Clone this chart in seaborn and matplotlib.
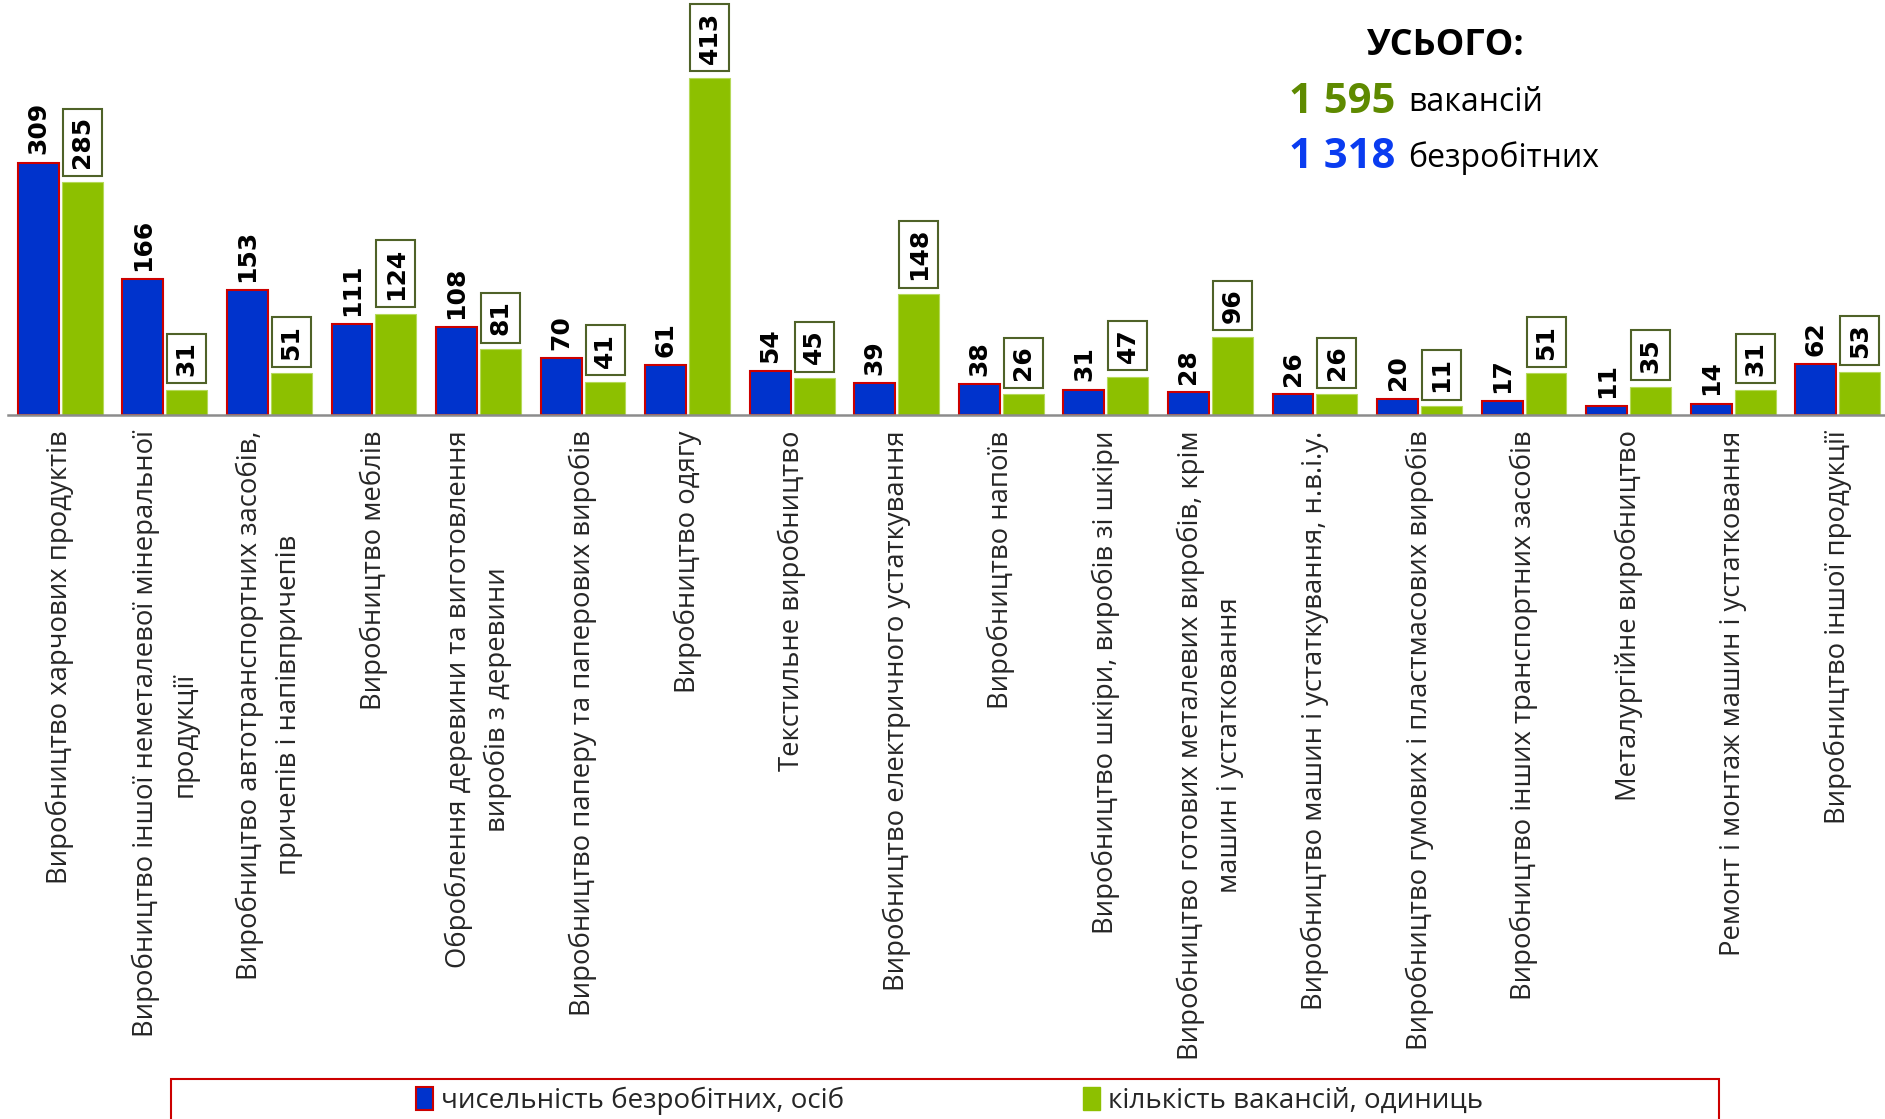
import matplotlib
matplotlib.use("Agg")
import matplotlib.pyplot as plt
import seaborn as sns
import pandas as pd
from matplotlib.patches import Patch, Rectangle

categories = [
    "Виробництво харчових продуктів",
    "Виробництво іншої неметалевої мінеральної\nпродукції",
    "Виробництво автотранспортних засобів,\nпричепів і напівпричепів",
    "Виробництво меблів",
    "Оброблення деревини та виготовлення\nвиробів з деревини",
    "Виробництво паперу та паперових виробів",
    "Виробництво одягу",
    "Текстильне виробництво",
    "Виробництво електричного устаткування",
    "Виробництво напоїв",
    "Виробництво шкіри, виробів зі шкіри",
    "Виробництво готових металевих виробів, крім\nмашин і устатковання",
    "Виробництво машин і устаткування, н.в.і.у.",
    "Виробництво гумових і пластмасових виробів",
    "Виробництво інших транспортних засобів",
    "Металургійне виробництво",
    "Ремонт і монтаж машин і устатковання",
    "Виробництво іншої продукції",
]
unemployed = [309, 166, 153, 111, 108, 70, 61, 54, 39, 38, 31, 28, 26, 20, 17, 11, 14, 62]
vacancies = [285, 31, 51, 124, 81, 41, 413, 45, 148, 26, 47, 96, 26, 11, 51, 35, 31, 53]
series_names = ["чисельність безробітних, осіб", "кількість вакансій, одиниць"]
total_vac = "1 595"
total_unemp = "1 318"

BLUE = "#0033CC"
GREEN = "#8DC000"
RED = "#CC0000"

sns.set_style("white")
plt.rcParams["font.family"] = ["Open Sans", "DejaVu Sans"]

df = pd.DataFrame({
    "cat": categories * 2,
    "value": unemployed + vacancies,
    "series": [series_names[0]] * len(categories) + [series_names[1]] * len(categories),
})

fig = plt.figure(figsize=(18.85, 11.19), dpi=100)
ax = fig.add_axes([8 / 1885, 0.629, (1890 - 8) / 1885, 0.371])

sns.barplot(data=df, x="cat", y="value", hue="series", order=categories,
            hue_order=series_names, palette=[BLUE, GREEN], width=0.84, gap=0.07,
            saturation=1, legend=False, ax=ax, errorbar=None)

for p in ax.containers[0]:
    p.set_edgecolor(RED)
    p.set_linewidth(1.5)
for p in ax.containers[1]:
    p.set_edgecolor("#B5D95A")
    p.set_linewidth(0.8)

ax.set_xlim(-0.5, len(categories) - 0.5)
ax.set_ylim(0, 508)
for s in ["top", "right", "left"]:
    ax.spines[s].set_visible(False)
ax.spines["bottom"].set_color("#8C8C8C")
ax.spines["bottom"].set_linewidth(1.8)
ax.set_yticks([])
ax.set_xlabel("")
ax.set_ylabel("")

ax.set_xticks(range(len(categories)))
ax.set_xticklabels(categories, rotation=90, ha="center", va="top",
                   multialignment="center", fontsize=19.8, linespacing=1.5)
ax.tick_params(axis="x", which="major", length=0, pad=11)
ax.set_xticks([i - 0.5 for i in range(len(categories) + 1)], minor=True)
ax.tick_params(axis="x", which="minor", length=8, width=1.5, color="#8C8C8C")

for p in ax.containers[0]:
    ax.annotate(f"{int(p.get_height())}", xy=(p.get_x() + p.get_width() / 2, p.get_height()),
                xytext=(0, 6), textcoords="offset points", rotation=90,
                ha="center", va="bottom", fontsize=18, fontweight="bold",
                family="DejaVu Sans", color="black")
for p in ax.containers[1]:
    ax.annotate(f"{int(p.get_height())}", xy=(p.get_x() + p.get_width() / 2, p.get_height()),
                xytext=(0, 10), textcoords="offset points", rotation=90,
                ha="center", va="bottom", fontsize=18, fontweight="bold",
                family="DejaVu Sans", color="black",
                bbox=dict(boxstyle="square,pad=0.3", fc="white", ec="#4F6228", lw=1.5))

# Totals block
fig.text(1446 / 1885, 1 - 46 / 1119, "УСЬОГО:", ha="center", va="center",
         fontsize=26, fontweight="bold", color="black")
fig.text(1289 / 1885, 1 - 102 / 1119, total_vac, ha="left", va="center",
         fontsize=30, fontweight="bold", color="#5E8A00")
fig.text(1289 / 1885, 1 - 158 / 1119, total_unemp, ha="left", va="center",
         fontsize=30, fontweight="bold", color="#0A3CF0")
fig.text(1408 / 1885, 1 - 102 / 1119, "вакансій", ha="left", va="center",
         fontsize=23, color="black")
fig.text(1408 / 1885, 1 - 158 / 1119, "безробітних", ha="left", va="center",
         fontsize=23, color="black")

# Legend
fig.patches.append(Rectangle((171 / 1885, -0.05), (1719 - 171) / 1885, 0.05 + 0.0357,
                             transform=fig.transFigure, fill=False, ec=RED, lw=1.5))
handles = [Patch(facecolor=BLUE, edgecolor=RED, linewidth=1.5),
           Patch(facecolor=GREEN, edgecolor=GREEN)]
fig.legend(handles, series_names, loc="center", bbox_to_anchor=(950 / 1885, 0.016),
           ncol=2, frameon=False, fontsize=20, handlelength=0.6, handleheight=0.9,
           handletextpad=0.3, columnspacing=8.6, borderpad=0)

fig.savefig("out.png", dpi=100)
